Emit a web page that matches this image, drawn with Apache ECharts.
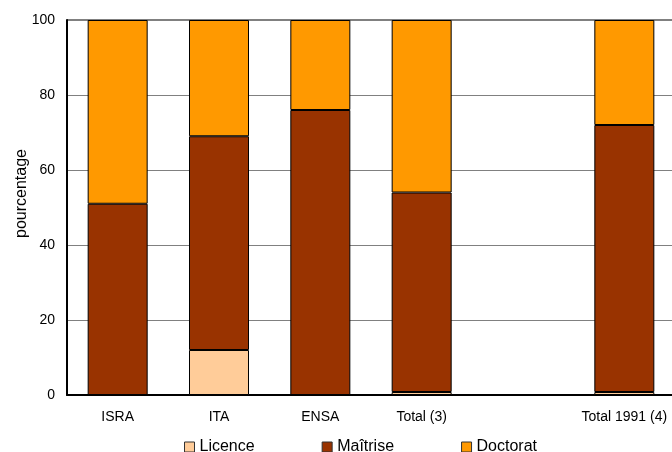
<!DOCTYPE html>
<html><head><meta charset="utf-8">
<script src="https://cdn.jsdelivr.net/npm/echarts@6/dist/echarts.min.js"></script>
<style>html,body{margin:0;padding:0;background:#fff}#c{width:672px;height:452px}</style>
</head><body><div id="c"></div>
<script>
const categories = ['ISRA', 'ITA', 'ENSA', 'Total (3)', '', 'Total 1991 (4)'];
const licence = [0, 12, 0, 0.8, '-', 0.8];
const maitrise = [51, 57, 76, 53.2, '-', 71.2];
const doctorat = [49, 31, 24, 46, '-', 28];
const yTicks = [0, 20, 40, 60, 80, 100];

const font = 'Liberation Sans, Arial, sans-serif';
const chart = echarts.init(document.getElementById('c'), null, {renderer: 'canvas'});
const mk = (name, data, color) => ({
  name, type: 'bar', stack: 's', data, barWidth: 60,
  itemStyle: {color, borderColor: '#000', borderWidth: 1},
  emphasis: {disabled: true}
});
chart.setOption({
  animation: false,
  textStyle: {fontFamily: font},
  grid: {left: 67, right: -3, top: 20, bottom: 57, show: true, borderColor: '#000', borderWidth: 1,
         backgroundColor: 'transparent', outerBoundsMode: 'none', containLabel: false},
  legend: {
    left: 179, top: 434, itemWidth: 10, itemHeight: 10, itemGap: 67,
    icon: 'rect',
    textStyle: {fontFamily: font, fontSize: 16, color: '#000'},
    itemStyle: {borderColor: '#333', borderWidth: 1},
    data: ['Licence', 'Maîtrise', 'Doctorat']
  },
  xAxis: {
    type: 'category', data: categories,
    axisLine: {lineStyle: {color: '#000', width: 2}},
    axisTick: {show: false},
    axisLabel: {color: '#000', fontSize: 14, fontFamily: font, margin: 15, interval: 0},
    splitLine: {show: false}
  },
  yAxis: {
    type: 'value', min: yTicks[0], max: yTicks[yTicks.length - 1], interval: 20,
    name: 'pourcentage', nameLocation: 'middle', nameGap: 37, nameMoveOverlap: false,
    nameTextStyle: {color: '#000', fontSize: 16, fontFamily: font, padding: [0, 0, 0, 28]},
    axisLine: {show: true, lineStyle: {color: '#000', width: 2}},
    axisTick: {show: false},
    axisLabel: {color: '#000', fontSize: 14, fontFamily: font, margin: 12},
    splitLine: {lineStyle: {color: '#808080', width: 1}}
  },
  series: [
    mk('Licence', licence, '#FFCC99'),
    mk('Maîtrise', maitrise, '#993300'),
    mk('Doctorat', doctorat, '#FF9900')
  ]
});
</script></body></html>
